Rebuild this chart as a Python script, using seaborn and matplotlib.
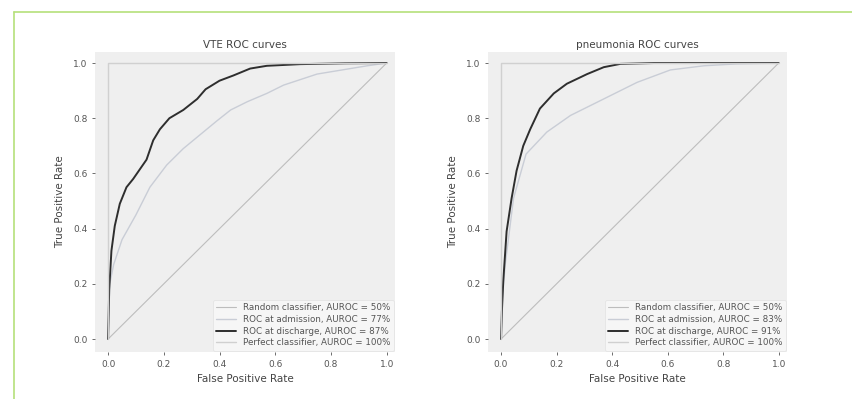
import matplotlib
matplotlib.use("Agg")
import matplotlib.pyplot as plt
from matplotlib.lines import Line2D
import seaborn as sns

# --- data ---
random_fpr = [0.0, 1.0]
random_tpr = [0.0, 1.0]
perfect_fpr = [0.0, 0.0, 1.0]
perfect_tpr = [0.0, 1.0, 1.0]

vte_adm_fpr = [0.0, 0.006, 0.02, 0.05, 0.10, 0.15, 0.21, 0.27, 0.33, 0.39, 0.44, 0.50, 0.57, 0.63, 0.69, 0.75, 0.81, 0.87, 0.93, 1.0]
vte_adm_tpr = [0.0, 0.20, 0.27, 0.36, 0.45, 0.55, 0.63, 0.69, 0.74, 0.79, 0.83, 0.86, 0.89, 0.92, 0.94, 0.96, 0.97, 0.98, 0.99, 1.0]
vte_dis_fpr = [0.0, 0.004, 0.012, 0.024, 0.042, 0.066, 0.09, 0.114, 0.138, 0.162, 0.186, 0.22, 0.27, 0.32, 0.35, 0.40, 0.45, 0.51, 0.57, 0.69, 0.85, 1.0]
vte_dis_tpr = [0.0, 0.18, 0.32, 0.41, 0.49, 0.55, 0.58, 0.615, 0.65, 0.72, 0.76, 0.80, 0.83, 0.87, 0.905, 0.936, 0.955, 0.98, 0.99, 0.996, 0.999, 1.0]

pn_adm_fpr = [0.0, 0.005, 0.015, 0.045, 0.09, 0.165, 0.25, 0.37, 0.49, 0.61, 0.73, 0.85, 1.0]
pn_adm_tpr = [0.0, 0.15, 0.27, 0.51, 0.67, 0.75, 0.81, 0.87, 0.93, 0.975, 0.99, 0.997, 1.0]
pn_dis_fpr = [0.0, 0.003, 0.008, 0.02, 0.038, 0.056, 0.08, 0.105, 0.14, 0.19, 0.237, 0.31, 0.37, 0.43, 0.55, 1.0]
pn_dis_tpr = [0.0, 0.10, 0.21, 0.39, 0.51, 0.61, 0.70, 0.76, 0.835, 0.89, 0.925, 0.96, 0.985, 0.997, 1.0, 1.0]

titles = ["VTE ROC curves", "pneumonia ROC curves"]
auc_admission = [77, 83]
auc_discharge = [87, 91]

sns.set_style("white")

fig = plt.figure(figsize=(8.53, 3.99), dpi=100)
ax1 = fig.add_axes([95/853, 1-352/399, 300/853, 300/399])
ax2 = fig.add_axes([488/853, 1-352/399, 299/853, 300/399])

curves = [(vte_adm_fpr, vte_adm_tpr, vte_dis_fpr, vte_dis_tpr),
          (pn_adm_fpr, pn_adm_tpr, pn_dis_fpr, pn_dis_tpr)]

for i, ax in enumerate([ax1, ax2]):
    adm_x, adm_y, dis_x, dis_y = curves[i]
    ax.set_facecolor("#efefef")
    sns.lineplot(x=random_fpr, y=random_tpr, ax=ax, estimator=None, sort=False,
                 color="#bdbdbd", linewidth=0.8, label="Random classifier, AUROC = 50%")
    sns.lineplot(x=adm_x, y=adm_y, ax=ax, estimator=None, sort=False,
                 color="#c9cdd6", linewidth=1.0, label=f"ROC at admission, AUROC = {auc_admission[i]}%")
    sns.lineplot(x=dis_x, y=dis_y, ax=ax, estimator=None, sort=False,
                 color="#2e2e2e", linewidth=1.4, label=f"ROC at discharge, AUROC = {auc_discharge[i]}%")
    sns.lineplot(x=perfect_fpr, y=perfect_tpr, ax=ax, estimator=None, sort=False,
                 color="#d0d0d0", linewidth=1.0, label="Perfect classifier, AUROC = 100%")

    ax.set_xlim(-0.047, 1.03)
    ax.set_ylim(-0.047, 1.04)
    ax.set_xticks([0.0, 0.2, 0.4, 0.6, 0.8, 1.0])
    ax.set_yticks([0.0, 0.2, 0.4, 0.6, 0.8, 1.0])
    ax.tick_params(labelsize=6.5, colors="#555555", length=2.5, width=0.6, direction="out",
                   bottom=True, left=True, pad=3)
    for s in ax.spines.values():
        s.set_visible(False)
    ax.set_title(titles[i], fontsize=7.5, color="#444444", pad=3)
    ax.set_xlabel("False Positive Rate", fontsize=7.5, color="#444444", labelpad=4)
    ax.set_ylabel("True Positive Rate", fontsize=7.5, color="#444444", labelpad=6)
    leg = ax.legend(loc="lower right", fontsize=6.3, frameon=True, handlelength=2.2,
                    borderpad=0.4, labelspacing=0.3, framealpha=0.9, borderaxespad=0.15)
    leg.get_frame().set_facecolor("#f7f7f7")
    leg.get_frame().set_edgecolor("#e0e0e0")
    leg.get_frame().set_linewidth(0.5)
    for t in leg.get_texts():
        t.set_color("#555555")

# green page border from the screenshot
fig.add_artist(Line2D([14/853, 1.0], [1-12/399, 1-12/399], transform=fig.transFigure,
                      color="#b5e07a", linewidth=1.2))
fig.add_artist(Line2D([14/853, 14/853], [0.0, 1-12/399], transform=fig.transFigure,
                      color="#b5e07a", linewidth=1.2))

fig.savefig("out.png", dpi=100)
